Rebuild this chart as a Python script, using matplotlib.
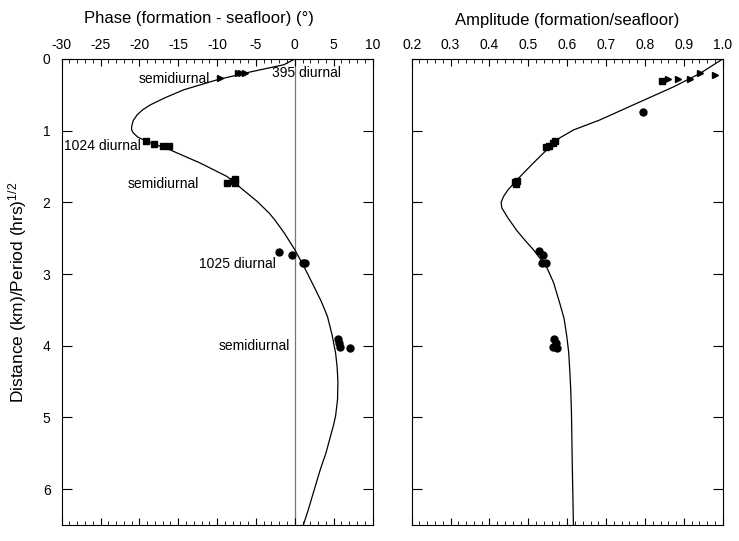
# Phase and amplitude of formation pressure relative to seafloor loading
# vs. scaled distance -- two panel figure

import numpy as np
import matplotlib.pyplot as plt
from matplotlib.ticker import MultipleLocator

plt.rcParams['font.family'] = ['Liberation Sans', 'DejaVu Sans']
plt.rcParams['axes.unicode_minus'] = False
plt.rcParams['mathtext.default'] = 'regular'

# ---- model curves ----
phase_curve_depth = [0.0, 0.08, 0.18, 0.29, 0.43, 0.54, 0.64, 0.71, 0.78, 0.86,
                     0.94, 0.99, 1.03, 1.09, 1.15, 1.27, 1.45, 1.64, 1.83, 1.99,
                     2.15, 2.24, 2.42, 2.66, 2.90, 3.17, 3.38, 3.59, 3.85, 4.10,
                     4.30, 4.50, 4.75, 4.98, 5.10, 5.26, 5.50, 5.72, 5.90, 6.10,
                     6.30, 6.50]
phase_curve = [0.0, -1.4, -5.7, -10.0, -14.3, -16.7, -18.6, -19.6, -20.3, -20.8,
               -21.0, -21.0, -20.8, -20.2, -19.0, -16.0, -12.2, -8.7, -6.6, -4.8,
               -3.3, -2.6, -1.4, 0.0, 1.2, 2.45, 3.4, 4.2, 4.8, 5.25,
               5.45, 5.55, 5.5, 5.25, 5.0, 4.6, 4.0, 3.3, 2.8, 2.25,
               1.7, 1.1]

amp_curve_depth = [0.0, 0.2, 0.39, 0.64, 0.85, 0.99, 1.10, 1.27, 1.45, 1.69,
                   1.83, 1.92, 2.0, 2.08, 2.22, 2.39, 2.52, 2.66, 2.78, 2.90,
                   3.12, 3.41, 3.62, 3.87, 4.10, 4.38, 4.60, 4.94, 5.64, 6.5]
amp_curve = [1.0, 0.942, 0.873, 0.77, 0.684, 0.616, 0.581, 0.547, 0.513, 0.47,
             0.447, 0.436, 0.43, 0.432, 0.448, 0.47, 0.49, 0.513, 0.53, 0.547,
             0.565, 0.581, 0.592, 0.599, 0.604, 0.607, 0.609, 0.611, 0.613, 0.616]

# ---- observations ----
# 395 diurnal / semidiurnal (triangles)
phase_tri = [-9.6, -7.3, -6.9, -6.4]
phase_tri_depth = [0.27, 0.2, 0.2, 0.2]
amp_tri = [0.86, 0.886, 0.916, 0.942, 0.98]
amp_tri_depth = [0.275, 0.275, 0.275, 0.195, 0.23]

# 1024 (squares)
phase_sq = [-19.1, -18.1, -16.9, -16.2, -8.7, -7.9, -7.7, -7.65]
phase_sq_depth = [1.15, 1.18, 1.22, 1.22, 1.73, 1.70, 1.68, 1.73]
amp_sq = [0.843, 0.545, 0.553, 0.564, 0.569, 0.466, 0.472, 0.468]
amp_sq_depth = [0.31, 1.23, 1.22, 1.17, 1.15, 1.72, 1.70, 1.74]

# 1025 (circles)
phase_circ = [-2.0, -0.4, 1.0, 1.3, 5.5, 5.7, 5.8, 7.1]
phase_circ_depth = [2.69, 2.74, 2.84, 2.85, 3.91, 3.96, 4.02, 4.03]
amp_circ = [0.796, 0.528, 0.537, 0.535, 0.545, 0.566, 0.571, 0.564, 0.574]
amp_circ_depth = [0.74, 2.68, 2.74, 2.84, 2.85, 3.91, 3.96, 4.02, 4.03]

# labels in the phase panel: (text, phase, depth, alignment)
phase_labels = [('semidiurnal', -10.9, 0.28, 'right'),
                ('395 diurnal', -2.9, 0.2, 'left'),
                ('1024 diurnal', -19.8, 1.22, 'right'),
                ('semidiurnal', -12.3, 1.74, 'right'),
                ('1025 diurnal', -2.5, 2.86, 'right'),
                ('semidiurnal', -0.55, 4.01, 'right')]

W, H = 739, 541
fig = plt.figure(figsize=(W / 100, H / 100), dpi=100)

ax1 = fig.add_axes([61.7 / W, 1 - 525 / H, 310.8 / W, 466 / H])
ax2 = fig.add_axes([411.7 / W, 1 - 525 / H, 311 / W, 466 / H])

ms = 5
lw = 0.9

# phase panel
ax1.axvline(0, color='#777777', lw=0.9, zorder=1)
ax1.plot(phase_curve, phase_curve_depth, '-k', lw=lw, zorder=2)
ax1.plot(phase_tri, phase_tri_depth, '>k', ms=ms, ls='none', zorder=3)
ax1.plot(phase_sq, phase_sq_depth, 'sk', ms=ms, ls='none', zorder=3)
ax1.plot(phase_circ, phase_circ_depth, 'ok', ms=ms, ls='none', zorder=3)
for txt, xx, yy, ha in phase_labels:
    ax1.text(xx, yy, txt, ha=ha, va='center', fontsize=10)
ax1.set_xlim(-30, 10)
ax1.xaxis.set_major_locator(MultipleLocator(5))
ax1.xaxis.set_minor_locator(MultipleLocator(1))
ax1.set_ylabel('Distance (km)/Period (hrs)$^{1/2}$', fontsize=12.5, labelpad=10)

# amplitude panel
ax2.plot(amp_curve, amp_curve_depth, '-k', lw=lw, zorder=2)
ax2.plot(amp_tri, amp_tri_depth, '>k', ms=ms, ls='none', zorder=3)
ax2.plot(amp_sq, amp_sq_depth, 'sk', ms=ms, ls='none', zorder=3)
ax2.plot(amp_circ, amp_circ_depth, 'ok', ms=ms, ls='none', zorder=3)
ax2.set_xlim(0.2, 1.0)
ax2.xaxis.set_major_locator(MultipleLocator(0.1))
ax2.xaxis.set_minor_locator(MultipleLocator(0.02))
ax2.xaxis.set_major_formatter(plt.FormatStrFormatter('%.1f'))

for ax in [ax1, ax2]:
    ax.set_ylim(6.5, 0)
    ax.yaxis.set_major_locator(MultipleLocator(1))
    ax.xaxis.tick_top()
    ax.tick_params(axis='x', which='both', direction='in', top=True, bottom=True,
                   labeltop=True, labelbottom=False, labelsize=10, pad=5)
    ax.tick_params(axis='x', which='major', length=5, width=0.8)
    ax.tick_params(axis='x', which='minor', length=3, width=0.6)
    ax.tick_params(axis='y', which='major', direction='in', left=True, right=True,
                   length=7, width=0.8, labelsize=10, pad=8)
    for s in ax.spines.values():
        s.set_linewidth(0.8)
ax2.tick_params(axis='y', labelleft=False)

fig.text(199 / W, 1 - 19 / H, 'Phase (formation - seafloor) (°)',
         ha='center', va='center', fontsize=12)
fig.text(567 / W, 1 - 21 / H, 'Amplitude (formation/seafloor)',
         ha='center', va='center', fontsize=12)

fig.savefig('out.png', dpi=100)
